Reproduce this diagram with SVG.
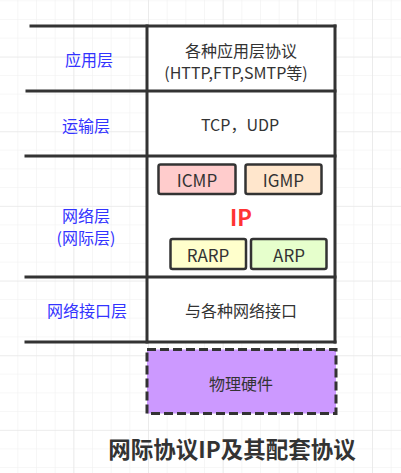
<svg xmlns="http://www.w3.org/2000/svg" width="401" height="473" viewBox="0 0 401 473">
<style>
.txt{font-family:"Noto Sans CJK SC","Microsoft YaHei","Liberation Sans",sans-serif;font-size:16px;fill:#333333;text-anchor:middle;dominant-baseline:central}
.lbl{fill:#3333FF}
.bt{font-size:17px}
.ln{stroke:#333333;stroke-width:3;fill:none;stroke-linecap:square}
.box{stroke:#333333;stroke-width:2.5}
</style>
<defs>
<pattern id="minor" width="18.667" height="18.667" patternUnits="userSpaceOnUse" x="17.33" y="19">
<path d="M0 0V18.667M0 0H18.667" stroke="#f0f0f0" stroke-width="1.2" fill="none"/>
</pattern>
<pattern id="major" width="74.667" height="74.667" patternUnits="userSpaceOnUse" x="73.33" y="56.67">
<path d="M0 0V74.667M0 0H74.667" stroke="#e4e4e4" stroke-width="1.2" fill="none"/>
</pattern>
</defs>
<rect width="401" height="473" fill="#ffffff"/>
<rect width="401" height="473" fill="url(#minor)"/>
<rect width="401" height="473" fill="url(#major)"/>

<g id="cell-backgrounds">
<rect x="147" y="26" width="188" height="316" fill="#ffffff"/>
</g>

<g id="connectors">
<line class="ln" x1="31" y1="26" x2="335" y2="26"/>
<line class="ln" x1="27" y1="91" x2="335" y2="91"/>
<line class="ln" x1="26" y1="156" x2="335" y2="156"/>
<line class="ln" x1="26" y1="277" x2="335" y2="277"/>
<line class="ln" x1="26" y1="342" x2="335" y2="342"/>
<line class="ln" x1="147" y1="26" x2="147" y2="342"/>
<line class="ln" x1="335" y1="26" x2="335" y2="342"/>
</g>

<g id="label-app"><text class="txt lbl" x="89" y="59">应用层</text></g>
<g id="label-transport"><text class="txt lbl" x="86" y="125">运输层</text></g>
<g id="label-network"><text class="txt lbl" x="86" y="215">网络层</text><text class="txt lbl" x="86" y="237">(网际层)</text></g>
<g id="label-link"><text class="txt lbl" x="87" y="310">网络接口层</text></g>

<g id="cell-app"><text class="txt" x="241" y="50">各种应用层协议</text><text class="txt" x="236" y="72">(HTTP,FTP,SMTP等)</text></g>
<g id="cell-transport"><text class="txt" x="240" y="124">TCP，UDP</text></g>
<g id="cell-link"><text class="txt" x="241" y="310">与各种网络接口</text></g>

<g id="icmp"><rect class="box" x="158.5" y="164.5" width="77" height="29.5" rx="2" fill="#ffcccc"/><text class="txt bt" x="197" y="179.5">ICMP</text></g>
<g id="igmp"><rect class="box" x="245.5" y="164.5" width="76" height="29.5" rx="2" fill="#ffe6cc"/><text class="txt bt" x="283.5" y="179.5">IGMP</text></g>
<g id="ip"><text class="txt" x="241" y="216" style="font-size:22px;font-weight:bold;fill:#ff3333">IP</text></g>
<g id="rarp"><rect class="box" x="170.5" y="239" width="75.5" height="30" rx="2" fill="#ffffcc"/><text class="txt bt" x="208" y="254">RARP</text></g>
<g id="arp"><rect class="box" x="251" y="239" width="75.5" height="30" rx="2" fill="#e6ffcc"/><text class="txt bt" x="289" y="254">ARP</text></g>

<g id="hardware"><rect x="147" y="349.5" width="189" height="64" fill="#cc99ff" stroke="#333333" stroke-width="3" stroke-dasharray="9 4"/><text class="txt" x="241" y="383">物理硬件</text></g>

<g id="title"><text class="txt" x="232" y="448" style="font-size:22.5px;font-weight:bold">网际协议IP及其配套协议</text></g>
</svg>
